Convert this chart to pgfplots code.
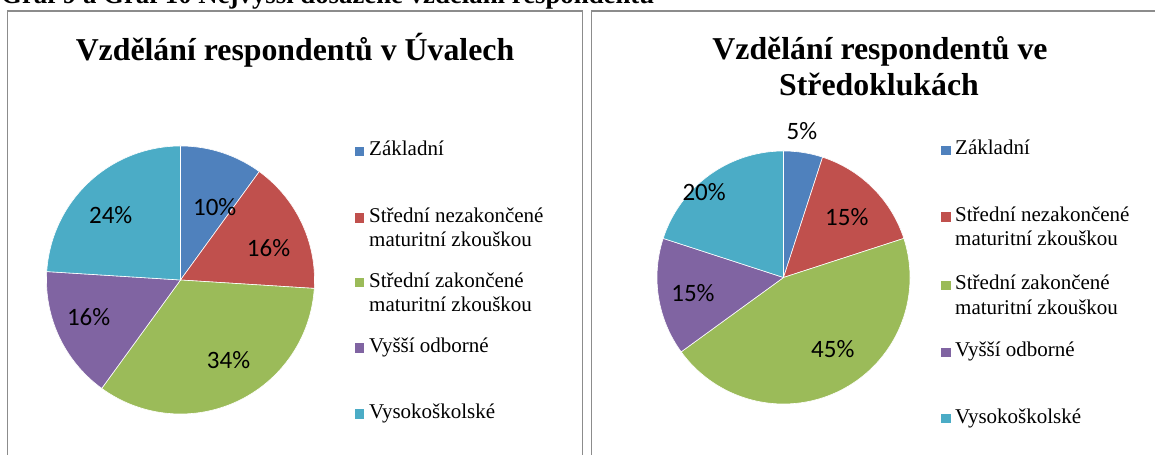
\documentclass[border=0pt]{standalone}
\usepackage{pgfplots}
\pgfplotsset{compat=1.18}
\usepgfplotslibrary{polar}
\usepackage{fontspec}
\setmainfont{Liberation Serif}
\newfontfamily\calib{Carlito}
\definecolor{cA}{HTML}{4F81BD}
\definecolor{cB}{HTML}{C0504D}
\definecolor{cC}{HTML}{9BBB59}
\definecolor{cD}{HTML}{8064A2}
\definecolor{cE}{HTML}{4BACC6}
\definecolor{frame}{HTML}{8C8C8C}
\newcommand{\titlefont}{\bfseries\fontsize{31.8bp}{37bp}\selectfont}
\newcommand{\legfont}{\fontsize{21bp}{24bp}\selectfont}
\newcommand{\lblfont}{\calib\fontsize{25bp}{28bp}\selectfont}
% slice: color, cumulative start %, cumulative end %
\newcommand{\slice}[3]{\addplot[fill=#1, draw=white, line width=0.6bp, domain={90-3.6*(#3)}:{90-3.6*(#2)}, samples=90] ({x},{1}) -- (axis cs:0,0) -- cycle;}
\pgfplotsset{pie/.style={scale only axis, hide axis, clip=false, ymin=0, ymax=1, anchor=center}}
\newcommand{\legsq}[3]{\fill[#3] (#1,{455-#2}) rectangle ({#1+9.5},{455-#2+9.3});}
\newcommand{\legtx}[3]{\node[anchor=base west, inner sep=0pt, font=\legfont] at (#1,{455-#2}) {#3};}
\begin{document}
\begin{tikzpicture}[x=1bp,y=1bp]
\useasboundingbox (0,0) rectangle (1155,455);
% header (cut at top)
\node[anchor=base west, inner sep=0pt, font=\bfseries\fontsize{26.8bp}{30bp}\selectfont] at (1,451) {Graf 9 a Graf 10 Nejvyšší dosažené vzdělání respondentů};
% frames
\draw[frame, line width=1.3bp] (7.5,-5) -- (7.5,444) -- (582.5,444) -- (582.5,-5);
\draw[frame, line width=1.3bp] (591.5,-5) -- (591.5,444) -- (1160,444);
% titles
\node[anchor=base, inner sep=0pt, font=\titlefont] at (295,394.3) {Vzdělání respondentů v Úvalech};
\node[anchor=base, inner sep=0pt, font=\titlefont] at (880,395.7) {Vzdělání respondentů ve};
\node[anchor=base, inner sep=0pt, font=\titlefont] at (879,359) {Středoklukách};
% left pie: 10, 16, 34, 16, 24 %
\begin{polaraxis}[pie, at={(180.5bp,175bp)}, width=268bp, height=268bp]
\slice{cA}{0}{10}
\slice{cB}{10}{26}
\slice{cC}{26}{60}
\slice{cD}{60}{76}
\slice{cE}{76}{100}
\node[font=\lblfont, inner sep=0pt] at (axis cs:65,0.604) {10\%};
\node[font=\lblfont, inner sep=0pt] at (axis cs:20.2,0.70) {16\%};
\node[font=\lblfont, inner sep=0pt] at (axis cs:-59.2,0.70) {34\%};
\node[font=\lblfont, inner sep=0pt] at (axis cs:202.1,0.74) {16\%};
\node[font=\lblfont, inner sep=0pt] at (axis cs:137.2,0.71) {24\%};
\end{polaraxis}
% right pie: 5, 15, 45, 15, 20 %
\begin{polaraxis}[pie, at={(783.5bp,177.5bp)}, width=253bp, height=253bp]
\slice{cA}{0}{5}
\slice{cB}{5}{20}
\slice{cC}{20}{65}
\slice{cD}{65}{80}
\slice{cE}{80}{100}
\node[font=\lblfont, inner sep=0pt] at (axis cs:82.8,1.165) {5\%};
\node[font=\lblfont, inner sep=0pt] at (axis cs:43.5,0.69) {15\%};
\node[font=\lblfont, inner sep=0pt] at (axis cs:-55.3,0.685) {45\%};
\node[font=\lblfont, inner sep=0pt] at (axis cs:189.6,0.726) {15\%};
\node[font=\lblfont, inner sep=0pt] at (axis cs:133,0.92) {20\%};
\end{polaraxis}
% left legend
\legsq{354.5}{156}{cA}\legtx{369}{156}{Základní}
\legsq{354.5}{222.8}{cB}\legtx{369}{222.8}{Střední nezakončené}\legtx{369}{246.8}{maturitní zkouškou}
\legsq{354.5}{287.3}{cC}\legtx{369}{287.3}{Střední zakončené}\legtx{369}{311.3}{maturitní zkouškou}
\legsq{354.5}{352.7}{cD}\legtx{369}{352.7}{Vyšší odborné}
\legsq{354.5}{418.7}{cE}\legtx{369}{418.7}{Vysokoškolské}
% right legend
\legsq{941}{155}{cA}\legtx{955}{155}{Základní}
\legsq{941}{221.7}{cB}\legtx{955}{221.7}{Střední nezakončené}\legtx{955}{246}{maturitní zkouškou}
\legsq{941}{290}{cC}\legtx{955}{290}{Střední zakončené}\legtx{955}{314.3}{maturitní zkouškou}
\legsq{941}{357}{cD}\legtx{955}{357}{Vyšší odborné}
\legsq{941}{423.5}{cE}\legtx{955}{423.5}{Vysokoškolské}
\end{tikzpicture}
\end{document}
